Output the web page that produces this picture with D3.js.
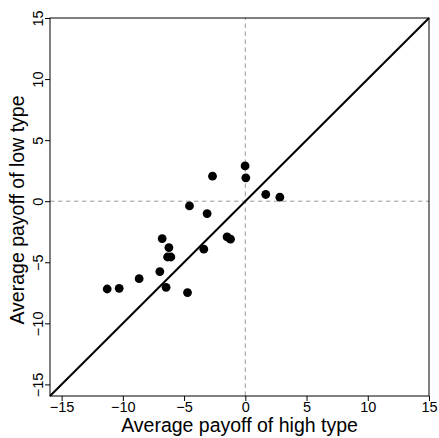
<!DOCTYPE html>
<html>
<head>
<meta charset="utf-8">
<script src="https://cdn.jsdelivr.net/npm/d3@7"></script>
<style>
  body { margin: 0; background: #fff; }
  text { font-family: "Liberation Sans", Arial, sans-serif; }
</style>
</head>
<body>
<div id="chart"></div>
<script>
// average payoffs per session
const highPayoff = [-11.28, -10.30, -8.67, -6.98, -6.47, -4.72, -6.79, -6.24, -6.35, -6.08,
                    -4.56, -3.39, -3.12, -2.68, -1.49, -1.21, -0.02, 0.04, 1.67, 2.82];
const lowPayoff  = [-7.19, -7.13, -6.34, -5.76, -7.05, -7.48, -3.06, -3.80, -4.57, -4.57,
                    -0.39, -3.93, -1.01, 2.05, -2.93, -3.11, 2.89, 1.91, 0.55, 0.33];
const tickValues = [-15, -10, -5, 0, 5, 10, 15];
const axisLimits = [-15.95, 15];

const width = 439, height = 438;
const margin = { top: 18, right: 10, bottom: 42, left: 50 };

const svg = d3.select("#chart").append("svg")
    .attr("width", width)
    .attr("height", height);

const x = d3.scaleLinear().domain(axisLimits).range([margin.left, width - margin.right]);
const y = d3.scaleLinear().domain(axisLimits).range([height - margin.bottom, margin.top]);

const points = highPayoff.map((h, i) => ({ high: h, low: lowPayoff[i] }));
const fmt = d => d < 0 ? "\u2212" + Math.abs(d) : d;

// reference lines at zero
svg.append("line")
    .attr("x1", x(0)).attr("x2", x(0))
    .attr("y1", y.range()[0]).attr("y2", y.range()[1])
    .attr("stroke", "#999").attr("stroke-dasharray", "4.5,3.5");
svg.append("line")
    .attr("x1", x.range()[0]).attr("x2", x.range()[1])
    .attr("y1", y(0)).attr("y2", y(0))
    .attr("stroke", "#999").attr("stroke-dasharray", "4.5,3.5");

// 45 degree line
svg.append("line")
    .attr("x1", x(axisLimits[0])).attr("y1", y(axisLimits[0]))
    .attr("x2", x(axisLimits[1])).attr("y2", y(axisLimits[1]))
    .attr("stroke", "#000").attr("stroke-width", 2);

svg.selectAll("circle")
    .data(points)
    .enter().append("circle")
    .attr("cx", d => x(d.high))
    .attr("cy", d => y(d.low))
    .attr("r", 4.4)
    .attr("fill", "#000");

// box
svg.append("rect")
    .attr("x", x.range()[0]).attr("y", y.range()[1])
    .attr("width", x.range()[1] - x.range()[0])
    .attr("height", y.range()[0] - y.range()[1])
    .attr("fill", "none").attr("stroke", "#000");

const xAxis = svg.append("g")
    .attr("transform", `translate(0,${y.range()[0]})`)
    .call(d3.axisBottom(x).tickValues(tickValues).tickSize(5).tickSizeOuter(0).tickFormat(fmt));
xAxis.select(".domain").remove();
xAxis.selectAll("text")
    .attr("font-size", 14.5)
    .attr("y", 6)
    .attr("fill", "#000");

const yAxis = svg.append("g")
    .attr("transform", `translate(${x.range()[0]},0)`)
    .call(d3.axisLeft(y).tickValues(tickValues).tickSize(5).tickSizeOuter(0).tickFormat(fmt));
yAxis.select(".domain").remove();
yAxis.selectAll("text")
    .attr("font-size", 14.5)
    .attr("x", null).attr("dy", null)
    .attr("text-anchor", "middle")
    .attr("transform", "translate(-7,0) rotate(-90)")
    .attr("fill", "#000");

svg.append("text")
    .attr("x", (x.range()[0] + x.range()[1]) / 2)
    .attr("y", 432)
    .attr("text-anchor", "middle")
    .attr("font-size", 19.5)
    .text("Average payoff of high type");

svg.append("text")
    .attr("transform", `translate(24,${(y.range()[0] + y.range()[1]) / 2 + 3}) rotate(-90)`)
    .attr("text-anchor", "middle")
    .attr("font-size", 19.5)
    .text("Average payoff of low type");
</script>
</body>
</html>
